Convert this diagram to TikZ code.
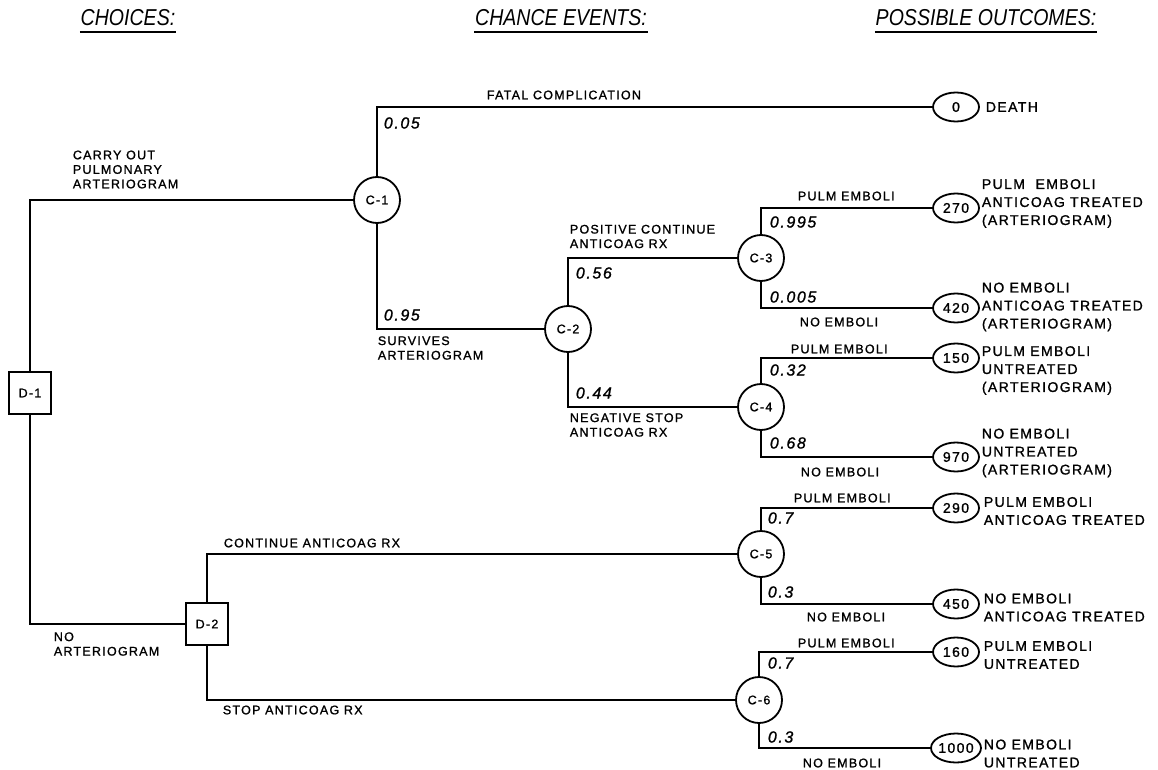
\documentclass[tikz,border=0pt]{standalone}
\usepackage{fontspec}
\setmainfont{Liberation Sans}
\newfontfamily\lblfont[LetterSpace=10,FakeBold=1.2]{Liberation Sans}
\newfontfamily\hdfont[FakeStretch=0.85]{Liberation Sans}
\usetikzlibrary{positioning,shapes.geometric}

\tikzset{dtree/.style={x=1pt,y=-1pt,line width=1.8pt}}
\tikzset{decide/.style={draw,line width=1.8pt,minimum width=42pt,minimum height=42pt,inner sep=0pt,
           font=\lblfont\fontsize{12.5}{13}\selectfont},
         chance/.style={draw,circle,line width=1.8pt,minimum size=46pt,inner sep=0pt,
           font=\lblfont\fontsize{12.5}{13}\selectfont},
         outcome/.style={draw,ellipse,line width=1.8pt,minimum width=46pt,minimum height=29pt,inner sep=0pt,
           font=\lblfont\fontsize{14}{15}\selectfont},
         prob/.style={anchor=west,inner sep=0pt,font=\lblfont\itshape\fontsize{16}{18}\selectfont},
         branch/.style={anchor=west,align=left,inner sep=0pt,font=\lblfont\fontsize{12.5}{14.5}\selectfont},
         result/.style={anchor=west,align=left,inner sep=0pt,font=\lblfont\fontsize{14}{18}\selectfont},
         header/.style={inner sep=0pt,font=\hdfont\itshape\fontsize{23}{24}\selectfont}}

\begin{document}
\begin{tikzpicture}[dtree]
    \useasboundingbox (0,0) rectangle (1158,770);
    % column headings
    \node[header] (hchoice) at (128,18) {CHOICES:};
    \node[header] (hchance) at (561,18) {CHANCE EVENTS:};
    \node[header] (hout)    at (986,18) {POSSIBLE OUTCOMES:};
    \foreach \h in {hchoice,hchance,hout}
      \draw[line width=1.4pt] ([yshift=-5pt]\h.south west) -- ([yshift=-5pt]\h.south east);

    % decision and chance nodes
    \node[decide] (D1) at (30,393)  {D-1};
    \node[decide] (D2) at (207,624) {D-2};
    \node[chance] (C1) at (377,200) {C-1};
    \node[chance] (C2) at (568,329) {C-2};
    \node[chance] (C3) at (761,258) {C-3};
    \node[chance] (C4) at (761,407) {C-4};
    \node[chance] (C5) at (761,554) {C-5};
    \node[chance] (C6) at (759,700) {C-6};

    % outcome values
    \foreach \v/\y in {0/107,270/208,420/308,150/358,970/457,290/508,450/604,160/652,1000/748}
      \node[outcome] (O\v) at (956,\y) {\v};

    % branches
    \draw (D1) |- (C1);
    \draw (D1) |- (D2);
    \draw (C1) |- (O0);
    \draw (C1) |- (C2);
    \draw (C2) |- (C3);
    \draw (C2) |- (C4);
    \draw (C3) |- (O270);
    \draw (C3) |- (O420);
    \draw (C4) |- (O150);
    \draw (C4) |- (O970);
    \draw (D2) |- (C5);
    \draw (D2) |- (C6);
    \draw (C5) |- (O290);
    \draw (C5) |- (O450);
    \draw (C6) |- (O160);
    \draw (C6) |- (O1000);

    % branch labels
    \node[branch] (lcarry) at (72,169.5) {CARRY OUT\\PULMONARY\\ARTERIOGRAM};
    \node[branch] (lnoart) at (53,644)   {NO\\ARTERIOGRAM};
    \node[branch] (lfatal) at (486,95)   {FATAL COMPLICATION};
    \node[branch] (lsurv)  at (377,348)  {SURVIVES\\ARTERIOGRAM};
    \node[branch] (lpos)   at (569,236.5) {POSITIVE CONTINUE\\ANTICOAG RX};
    \node[branch] (lneg)   at (569,425)  {NEGATIVE STOP\\ANTICOAG RX};
    \node[branch] (lcont)  at (223,543)  {CONTINUE ANTICOAG RX};
    \node[branch] (lstop)  at (222,710)  {STOP ANTICOAG RX};
    \node[branch] (lpe3)   at (797,196)  {PULM EMBOLI};
    \node[branch] (lne3)   at (799,322)  {NO EMBOLI};
    \node[branch] (lpe4)   at (790,349)  {PULM EMBOLI};
    \node[branch] (lne4)   at (800,472)  {NO EMBOLI};
    \node[branch] (lpe5)   at (793,498)  {PULM EMBOLI};
    \node[branch] (lne5)   at (806,617)  {NO EMBOLI};
    \node[branch] (lpe6)   at (797,643)  {PULM EMBOLI};
    \node[branch] (lne6)   at (802,763)  {NO EMBOLI};

    % probabilities
    \node[prob] (p1a) at (383,123) {0.05};
    \node[prob] (p1b) at (383,315) {0.95};
    \node[prob] (p2a) at (575,273) {0.56};
    \node[prob] (p2b) at (575,393) {0.44};
    \node[prob] (p3a) at (769,222) {0.995};
    \node[prob] (p3b) at (769,297) {0.005};
    \node[prob] (p4a) at (769,370) {0.32};
    \node[prob] (p4b) at (769,443) {0.68};
    \node[prob] (p5a) at (767,518) {0.7};
    \node[prob] (p5b) at (767,592) {0.3};
    \node[prob] (p6a) at (767,663) {0.7};
    \node[prob] (p6b) at (767,737) {0.3};

    % outcome descriptions
    \node[result] (rdeath) at (985,107)   {DEATH};
    \node[result] (r270)   at (981,203.5) {PULM\ \ EMBOLI\\ANTICOAG TREATED\\(ARTERIOGRAM)};
    \node[result] (r420)   at (981,307)   {NO EMBOLI\\ANTICOAG TREATED\\(ARTERIOGRAM)};
    \node[result] (r150)   at (981,370.5) {PULM EMBOLI\\UNTREATED\\(ARTERIOGRAM)};
    \node[result] (r970)   at (981,453)   {NO EMBOLI\\UNTREATED\\(ARTERIOGRAM)};
    \node[result] (r290)   at (983,511)   {PULM EMBOLI\\ANTICOAG TREATED};
    \node[result] (r450)   at (983,607.5) {NO EMBOLI\\ANTICOAG TREATED};
    \node[result] (r160)   at (983,655)   {PULM EMBOLI\\UNTREATED};
    \node[result] (r1000)  at (983,753.5) {NO EMBOLI\\UNTREATED};
\end{tikzpicture}
\end{document}
